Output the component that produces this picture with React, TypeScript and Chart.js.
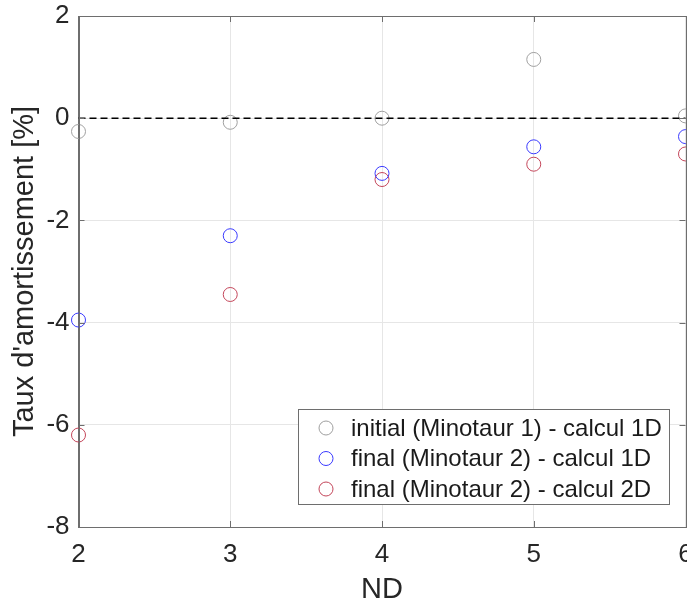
import React, { useEffect, useRef } from "react";
import { Chart, registerables } from "chart.js";

Chart.register(...registerables);

const ND = [2, 3, 4, 5, 6];
const initial1D = [-0.26, -0.08, 0.0, 1.15, 0.045];
const final1D = [-3.95, -2.3, -1.08, -0.56, -0.36];
const final2D = [-6.2, -3.45, -1.2, -0.9, -0.7];
const seriesLabels = [
  "initial (Minotaur 1) - calcul 1D",
  "final (Minotaur 2) - calcul 1D",
  "final (Minotaur 2) - calcul 2D",
];
const seriesColors = ["#a0a0a0", "#3a3aff", "#c4465a"];
const xTitle = "ND";
const yTitle = "Taux d'amortissement [%]";

const FONT = "'Liberation Sans', Arial, Helvetica, sans-serif";

const decorPlugin = {
  id: "decor",
  afterDraw(chart: any) {
    const { ctx, chartArea } = chart;
    const { left, right, top, bottom } = chartArea;
    const xs = chart.scales.x;
    const ys = chart.scales.y;
    ctx.save();
    // inward ticks
    ctx.strokeStyle = "#6e6e6e";
    ctx.lineWidth = 1;
    const tl = 6;
    xs.ticks.forEach((t: any) => {
      const px = Math.round(xs.getPixelForValue(t.value)) + 0.5;
      ctx.beginPath();
      ctx.moveTo(px, bottom);
      ctx.lineTo(px, bottom - tl);
      ctx.moveTo(px, top);
      ctx.lineTo(px, top + tl);
      ctx.stroke();
    });
    ys.ticks.forEach((t: any) => {
      const py = Math.round(ys.getPixelForValue(t.value)) + 0.5;
      ctx.beginPath();
      ctx.moveTo(left, py);
      ctx.lineTo(left + tl, py);
      ctx.moveTo(right, py);
      ctx.lineTo(right - tl, py);
      ctx.stroke();
    });
    // box
    ctx.strokeRect(
      Math.round(left) + 0.5,
      Math.round(top) + 0.5,
      Math.round(right - left),
      Math.round(bottom - top)
    );
    // legend
    const lx = 298.5;
    const ly = 409.5;
    const lw = 371;
    const lh = 95;
    ctx.fillStyle = "#ffffff";
    ctx.fillRect(lx, ly, lw, lh);
    ctx.strokeStyle = "#6e6e6e";
    ctx.strokeRect(lx, ly, lw, lh);
    ctx.font = `24px ${FONT}`;
    ctx.textBaseline = "middle";
    ctx.textAlign = "left";
    seriesLabels.forEach((lab, i) => {
      const cy = 428 + i * 30.5;
      ctx.beginPath();
      ctx.strokeStyle = seriesColors[i];
      ctx.lineWidth = 1;
      ctx.arc(326, cy, 7, 0, Math.PI * 2);
      ctx.stroke();
      ctx.fillStyle = "#1a1a1a";
      ctx.fillText(lab, 351, cy + 1);
    });
    ctx.restore();
  },
};

export default function App() {
  const ref = useRef<HTMLCanvasElement | null>(null);
  useEffect(() => {
    if (!ref.current) return;
    const mk = (vals: number[]) => ND.map((x, i) => ({ x, y: vals[i] }));
    const chart = new Chart(ref.current, {
      type: "scatter",
      data: {
        datasets: [
          {
            type: "line",
            label: "",
            data: [
              { x: ND[0], y: 0 },
              { x: ND[ND.length - 1], y: 0 },
            ],
            borderColor: "#000000",
            borderWidth: 1.6,
            borderDash: [7, 4],
            pointRadius: 0,
            fill: false,
            clip: false,
          } as any,
          ...[initial1D, final1D, final2D].map((vals, i) => ({
            label: seriesLabels[i],
            data: mk(vals),
            borderColor: seriesColors[i],
            backgroundColor: "rgba(0,0,0,0)",
            pointRadius: 7,
            pointBorderWidth: 1,
            pointStyle: "circle",
            clip: false,
          })),
        ],
      },
      options: {
        responsive: false,
        animation: false,
        layout: {
          autoPadding: false,
          padding: { top: 16, right: 1.5, left: 0, bottom: 0 },
        },
        plugins: {
          legend: { display: false },
          tooltip: { enabled: false },
        },
        scales: {
          x: {
            type: "linear",
            min: 2,
            max: 6,
            ticks: {
              stepSize: 1,
              color: "#262626",
              font: { family: FONT, size: 26 },
              padding: 12,
            },
            grid: { color: "#e6e6e6", drawTicks: false },
            border: { color: "#6e6e6e" },
            title: {
              display: true,
              text: xTitle,
              color: "#262626",
              font: { family: FONT, size: 29, lineHeight: 1 },
              padding: { top: 0, bottom: 0 },
            },
            afterFit(scale: any) {
              scale.height = 77;
              scale.paddingRight = 0;
              scale.paddingLeft = 0;
            },
          },
          y: {
            min: -8,
            max: 2,
            ticks: {
              stepSize: 2,
              color: "#262626",
              font: { family: FONT, size: 26 },
              padding: 9,
            },
            grid: { color: "#e6e6e6", drawTicks: false },
            border: { color: "#6e6e6e" },
            title: {
              display: true,
              text: yTitle,
              color: "#262626",
              font: { family: FONT, size: 29, lineHeight: 1 },
              padding: { top: 10, bottom: 0 },
            },
            afterFit(scale: any) {
              scale.width = 78.5;
              scale.paddingTop = 0;
              scale.paddingBottom = 0;
            },
          },
        },
      } as any,
      plugins: [decorPlugin],
    });
    return () => chart.destroy();
  }, []);
  return (
    <div
      style={{
        position: "absolute",
        left: 0,
        top: 0,
        width: 687,
        height: 604,
        overflow: "hidden",
        background: "#ffffff",
      }}
    >
      <canvas ref={ref} width={687} height={604} />
    </div>
  );
}
